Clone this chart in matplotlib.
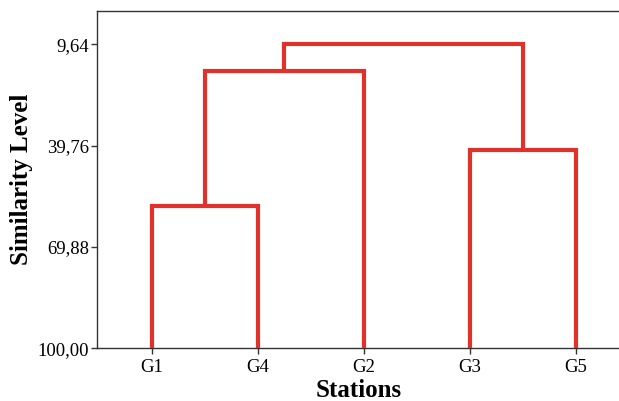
import matplotlib
matplotlib.use("Agg")
import matplotlib.pyplot as plt

# stations in dendrogram order
stations = ["G1", "G4", "G2", "G3", "G5"]

# linkage steps: (left, right) joined at similarity level
link_left = ["G1", "G3", "G1G4", "G1G4G2"]
link_right = ["G4", "G5", "G2", "G3G5"]
link_name = ["G1G4", "G3G5", "G1G4G2", "ALL"]
link_level = [57.6, 41.2, 17.5, 9.64]

y_ticks = [9.64, 39.76, 69.88, 100.00]

plt.rcParams["font.family"] = ["Liberation Serif", "DejaVu Serif"]

fig = plt.figure(figsize=(6.19, 4.01), dpi=100)
ax = fig.add_axes([0.1575, 0.1314, 0.8425, 0.8412])

xpos = {s: i + 1 for i, s in enumerate(stations)}
ypos = {s: 100.0 for s in stations}

red = "#e0312a"
for a, b, name, lvl in zip(link_left, link_right, link_name, link_level):
    xa, xb = xpos[a], xpos[b]
    ax.plot([xa, xa, xb, xb], [ypos[a], lvl, lvl, ypos[b]],
            color=red, linewidth=3.0, solid_joinstyle="miter",
            solid_capstyle="butt", zorder=3)
    xpos[name] = (xa + xb) / 2
    ypos[name] = lvl

ax.set_xlim(0.489, 5.41)
ax.set_ylim(100, -0.26)

ax.set_xticks(range(1, len(stations) + 1))
ax.set_xticklabels(stations)
ax.set_yticks(y_ticks)
ax.set_yticklabels([f"{v:.2f}".replace(".", ",") for v in y_ticks])

for side in ["left", "bottom", "top"]:
    ax.spines[side].set_color("#333333")
    ax.spines[side].set_linewidth(1.0)
ax.spines["right"].set_visible(False)

ax.tick_params(axis="both", direction="out", length=4, width=1,
               color="#333333", labelsize=13.5, pad=2)
ax.tick_params(axis="x", pad=3.5)

ax.set_xlabel("Stations", fontsize=18, fontweight="bold", labelpad=2)
ax.set_ylabel("Similarity Level", fontsize=18, fontweight="bold", labelpad=3)

plt.savefig("out.png", dpi=100)
plt.close(fig)
